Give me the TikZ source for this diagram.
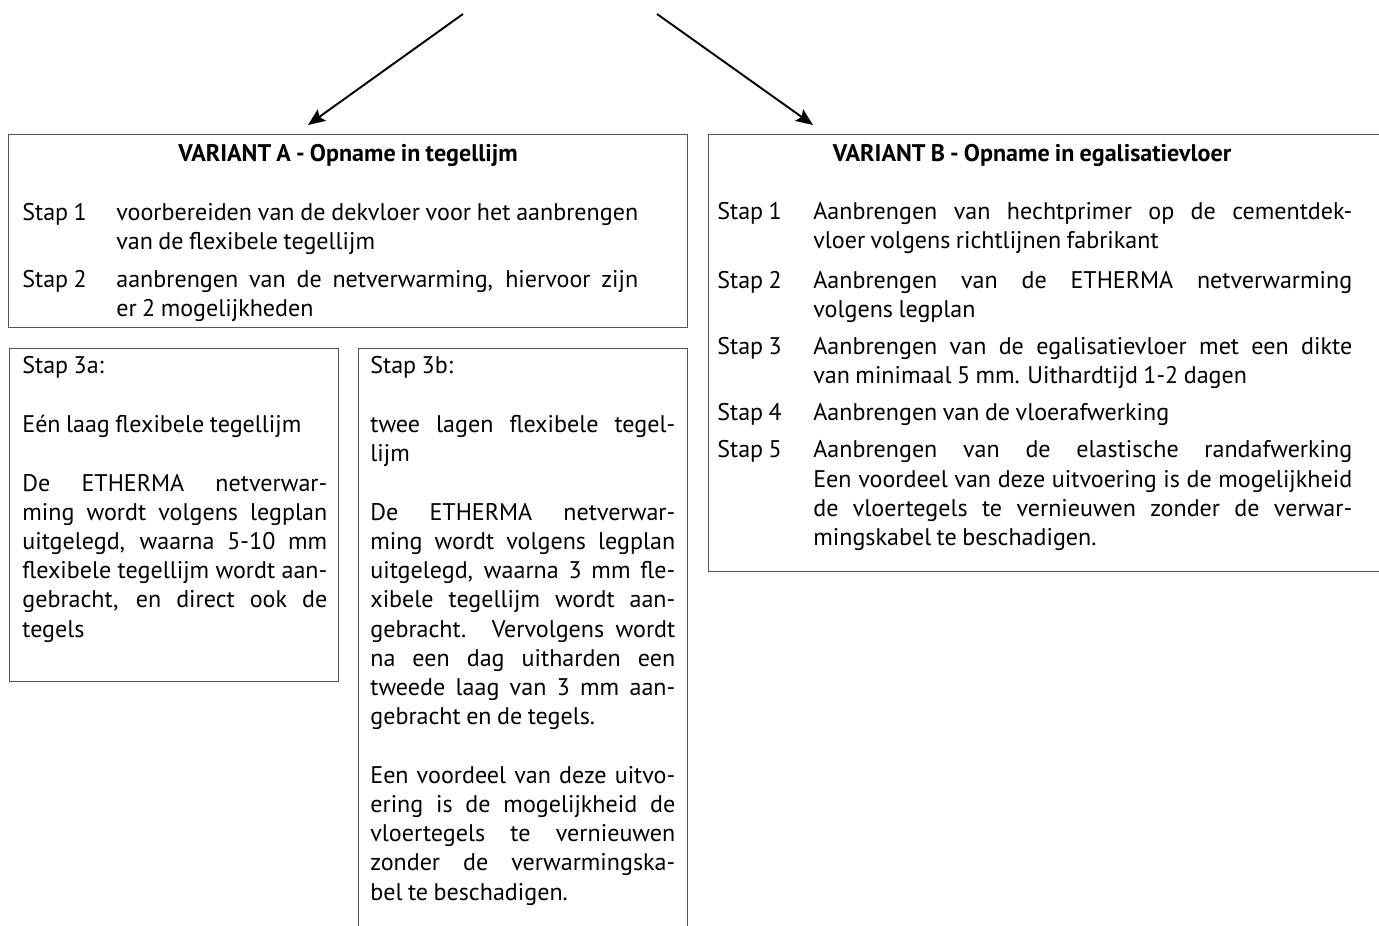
\documentclass[tikz,border=0pt]{standalone}
\usepackage{fontspec}
\setmainfont[WordSpace=0.85]{PT Sans}
\usetikzlibrary{arrows.meta,positioning,calc}
\definecolor{framegray}{RGB}{85,85,85}
\hyphenpenalty=10000
\exhyphenpenalty=0
\tikzset{
  panel/.style={rectangle, draw=framegray, line width=0.7pt, inner sep=0pt, anchor=north west},
  headline/.style={font=\fontsize{13.7}{16.6}\selectfont\bfseries, inner sep=0pt},
  steplist/.style={anchor=north west, inner sep=0pt, font=\fontsize{13.7}{16.6}\selectfont},
  bodytext/.style={anchor=north west, inner sep=0pt, text width=6.1cm, align=justify,
                   font=\fontsize{13.7}{16.6}\selectfont\setlength{\parskip}{16.9pt}},
  arrow/.style={-{Stealth[length=3.4mm, width=2.8mm, inset=0.6mm]}, line width=1.1pt, black},
}

\begin{document}
\begin{tikzpicture}[x=0.02cm, y=-0.02cm]
\useasboundingbox (0,0) rectangle (1379,926);
\clip (0,0) rectangle (1379,926);

\node[panel, minimum width=13.58cm, minimum height=3.86cm] (varA) at (8,134) {};
\node[panel, minimum width=13.9cm, minimum height=8.74cm] (varB) at (708,134) {};
\node[panel, minimum width=6.58cm, minimum height=6.66cm] (stepA) at (9,348) {};
\node[panel, minimum width=6.58cm, minimum height=12cm] (stepB) at (358,348) {};

\node[headline] (headA) at ($(varA.north)+(0,21)$) {VARIANT A - Opname in tegellijm};
\node[headline] (headB) at (1032,155) {VARIANT B - Opname in egalisatievloer};

\node[steplist] (listA) at (22,200) {%
\begin{tabular}{@{}p{1.88cm}@{}p{10.44cm}@{}}
Stap 1 & voorbereiden van de dekvloer voor het aanbrengen\linebreak van de flexibele tegellijm\\[0.16cm]
Stap 2 & aanbrengen van de netverwarming, hiervoor zijn\linebreak er 2 mogelijkheden
\end{tabular}};

\node[steplist] (listB) at (717,199) {%
\begin{tabular}{@{}p{1.92cm}@{}p{10.78cm}@{}}
Stap 1 & Aanbrengen van hechtprimer op de cementdek-\linebreak vloer volgens richtlijnen fabrikant\\[0.2cm]
Stap 2 & Aanbrengen van de ETHERMA netverwarming\linebreak volgens legplan\\[0.16cm]
Stap 3 & Aanbrengen van de egalisatievloer met een dikte\linebreak van minimaal 5 mm. Uithardtijd 1-2 dagen\\[0.16cm]
Stap 4 & Aanbrengen van de vloerafwerking\\[0.16cm]
Stap 5 & Aanbrengen van de elastische randafwerking\linebreak Een voordeel van deze uitvoering is de mogelijkheid\linebreak de vloertegels te vernieuwen zonder de verwar-\linebreak mingskabel te beschadigen.
\end{tabular}};

\node[bodytext] (textA) at (22,356) {%
Stap 3a:\par
Eén laag flexibele tegellijm\par
De ETHERMA netverwar-\linebreak ming wordt volgens legplan\linebreak uitgelegd, waarna 5-10 mm\linebreak flexibele tegellijm wordt aan-\linebreak gebracht, en direct ook de\linebreak tegels};

\node[bodytext] (textB) at (370,356) {%
Stap 3b:\par
twee lagen flexibele tegel-\linebreak lijm\par
De ETHERMA netverwar-\linebreak ming wordt volgens legplan\linebreak uitgelegd, waarna 3 mm fle-\linebreak xibele tegellijm wordt aan-\linebreak gebracht. Vervolgens wordt\linebreak na een dag uitharden een\linebreak tweede laag van 3 mm aan-\linebreak gebracht en de tegels.\par
Een voordeel van deze uitvo-\linebreak ering is de mogelijkheid de\linebreak vloertegels te vernieuwen\linebreak zonder de verwarmingska-\linebreak bel te beschadigen.};

\coordinate (fromA) at (463,14);
\coordinate (toA) at (308,125);
\coordinate (fromB) at (657,14);
\coordinate (toB) at (813,125);
\foreach \a/\b in {fromA/toA, fromB/toB}
  \draw[arrow] (\a) -- (\b);
\end{tikzpicture}
\end{document}
